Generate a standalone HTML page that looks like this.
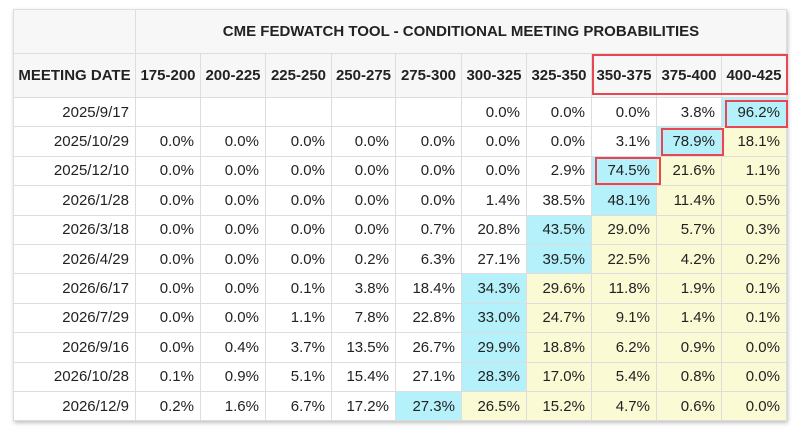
<!DOCTYPE html>
<html><head><meta charset="utf-8"><style>
body{margin:0;width:800px;height:433px;background:#fff;position:relative;overflow:hidden;font-family:"Liberation Sans",Arial,sans-serif;}
table{position:absolute;left:13px;top:9px;border-collapse:collapse;table-layout:fixed;box-shadow:1px 2px 4px rgba(0,0,0,.25);}
td{border:1px solid #ddd;font-size:15px;color:#222;text-align:right;padding:0 6px 0 0;height:28.4px;white-space:nowrap;overflow:hidden}
tr.h1 td{background:#f7f7f7;height:43px;font-weight:bold;text-align:center;padding:0;font-size:15px}
tr.h2 td{background:#f7f7f7;height:43px;font-weight:bold;text-align:center;padding:0;font-size:15px}
.b{background:#b5f1fb}.y{background:#fafad4}
.r{position:absolute;border:2px solid #e84652;box-sizing:border-box}
</style></head><body>
<table>
<colgroup><col style="width:122px"><col style="width:65px"><col style="width:65px"><col style="width:66px"><col style="width:64px"><col style="width:66px"><col style="width:65px"><col style="width:65px"><col style="width:65px"><col style="width:65px"><col style="width:65px"></colgroup>
<tr class="h1"><td></td><td colspan="10">CME FEDWATCH TOOL - CONDITIONAL MEETING PROBABILITIES</td></tr>
<tr class="h2"><td>MEETING DATE</td><td>175-200</td><td>200-225</td><td>225-250</td><td>250-275</td><td>275-300</td><td>300-325</td><td>325-350</td><td>350-375</td><td>375-400</td><td>400-425</td></tr>
<tr><td>2025/9/17</td><td></td><td></td><td></td><td></td><td></td><td>0.0%</td><td>0.0%</td><td>0.0%</td><td>3.8%</td><td class="b">96.2%</td></tr>
<tr><td>2025/10/29</td><td>0.0%</td><td>0.0%</td><td>0.0%</td><td>0.0%</td><td>0.0%</td><td>0.0%</td><td>0.0%</td><td>3.1%</td><td class="b">78.9%</td><td class="y">18.1%</td></tr>
<tr><td>2025/12/10</td><td>0.0%</td><td>0.0%</td><td>0.0%</td><td>0.0%</td><td>0.0%</td><td>0.0%</td><td>2.9%</td><td class="b">74.5%</td><td class="y">21.6%</td><td class="y">1.1%</td></tr>
<tr><td>2026/1/28</td><td>0.0%</td><td>0.0%</td><td>0.0%</td><td>0.0%</td><td>0.0%</td><td>1.4%</td><td>38.5%</td><td class="b">48.1%</td><td class="y">11.4%</td><td class="y">0.5%</td></tr>
<tr><td>2026/3/18</td><td>0.0%</td><td>0.0%</td><td>0.0%</td><td>0.0%</td><td>0.7%</td><td>20.8%</td><td class="b">43.5%</td><td class="y">29.0%</td><td class="y">5.7%</td><td class="y">0.3%</td></tr>
<tr><td>2026/4/29</td><td>0.0%</td><td>0.0%</td><td>0.0%</td><td>0.2%</td><td>6.3%</td><td>27.1%</td><td class="b">39.5%</td><td class="y">22.5%</td><td class="y">4.2%</td><td class="y">0.2%</td></tr>
<tr><td>2026/6/17</td><td>0.0%</td><td>0.0%</td><td>0.1%</td><td>3.8%</td><td>18.4%</td><td class="b">34.3%</td><td class="y">29.6%</td><td class="y">11.8%</td><td class="y">1.9%</td><td class="y">0.1%</td></tr>
<tr><td>2026/7/29</td><td>0.0%</td><td>0.0%</td><td>1.1%</td><td>7.8%</td><td>22.8%</td><td class="b">33.0%</td><td class="y">24.7%</td><td class="y">9.1%</td><td class="y">1.4%</td><td class="y">0.1%</td></tr>
<tr><td>2026/9/16</td><td>0.0%</td><td>0.4%</td><td>3.7%</td><td>13.5%</td><td>26.7%</td><td class="b">29.9%</td><td class="y">18.8%</td><td class="y">6.2%</td><td class="y">0.9%</td><td class="y">0.0%</td></tr>
<tr><td>2026/10/28</td><td>0.1%</td><td>0.9%</td><td>5.1%</td><td>15.4%</td><td>27.1%</td><td class="b">28.3%</td><td class="y">17.0%</td><td class="y">5.4%</td><td class="y">0.8%</td><td class="y">0.0%</td></tr>
<tr><td>2026/12/9</td><td>0.2%</td><td>1.6%</td><td>6.7%</td><td>17.2%</td><td class="b">27.3%</td><td class="y">26.5%</td><td class="y">15.2%</td><td class="y">4.7%</td><td class="y">0.6%</td><td class="y">0.0%</td></tr>
</table>
<div class="r" style="left:592px;top:54px;width:196px;height:41px"></div>
<div class="r" style="left:725px;top:100px;width:63px;height:28px"></div>
<div class="r" style="left:661px;top:128px;width:63px;height:28px"></div>
<div class="r" style="left:595px;top:157px;width:66px;height:28px"></div>
</body></html>
